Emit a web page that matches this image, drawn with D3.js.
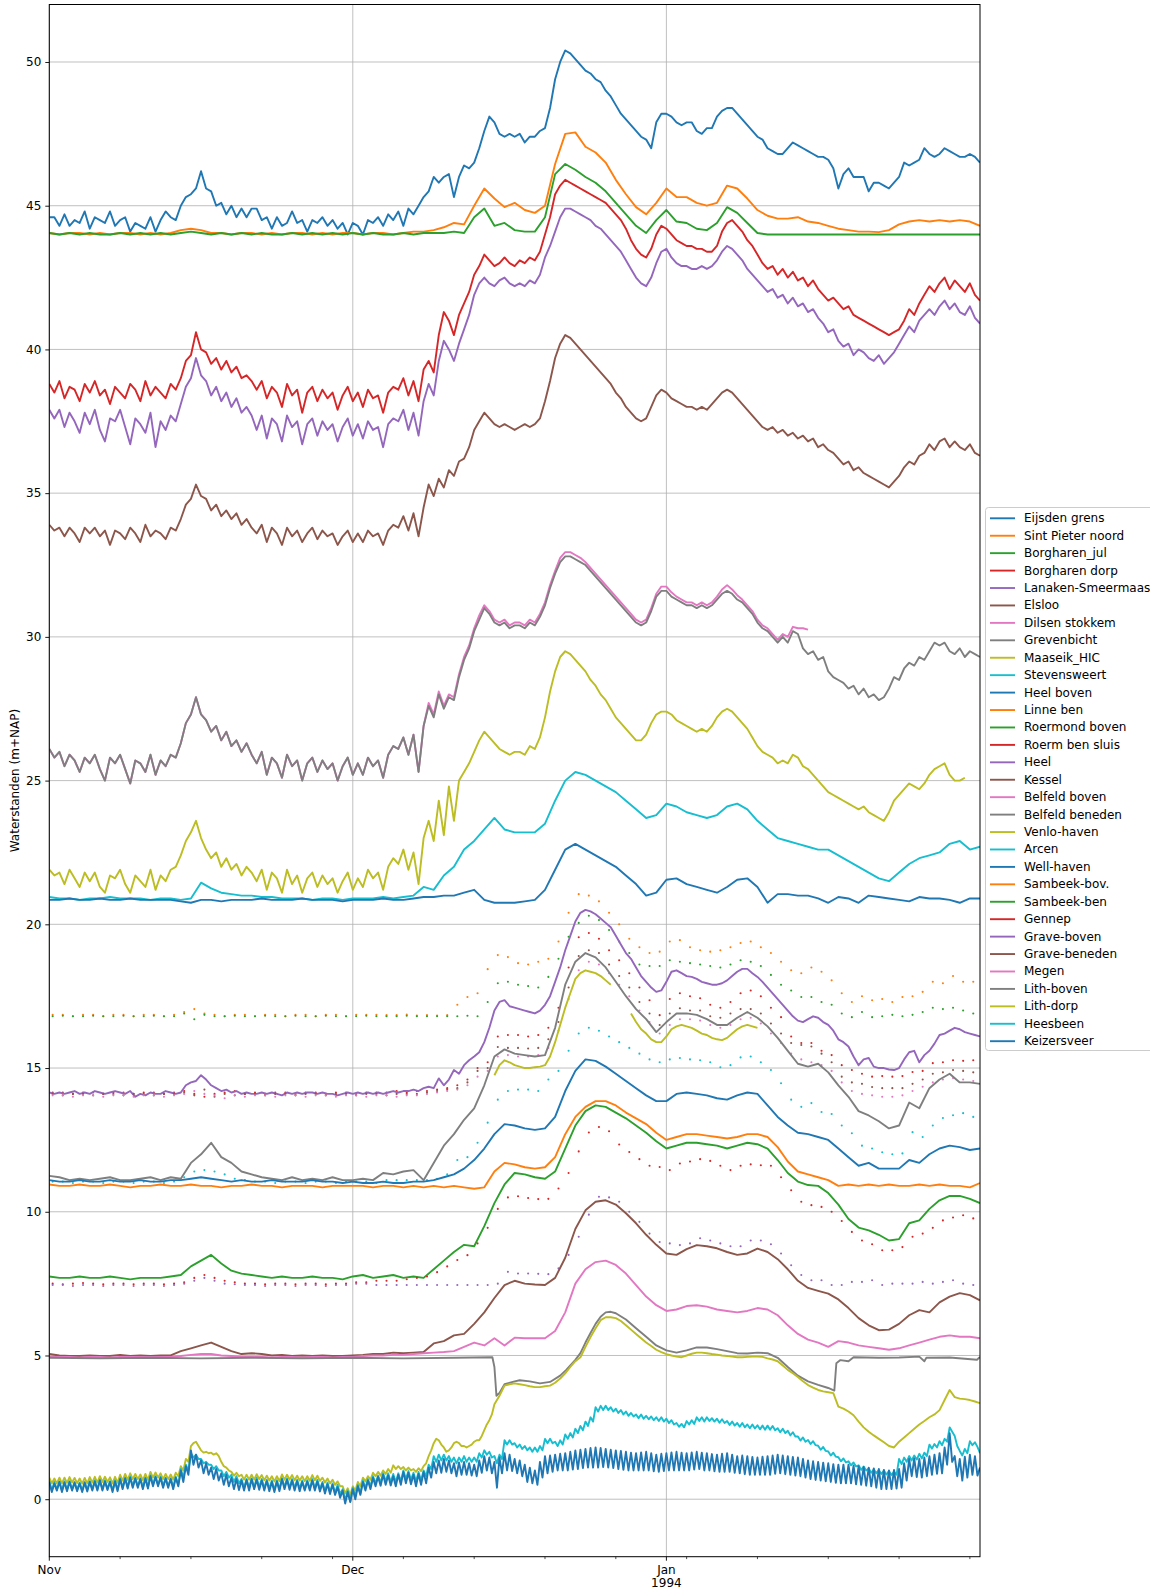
<!DOCTYPE html>
<html><head><meta charset="utf-8">
<script src="https://cdn.jsdelivr.net/npm/d3@7"></script>
<style>body{margin:0;background:#fff}svg{display:block;font-family:"DejaVu Sans",sans-serif}</style>
</head><body><svg id="chart" width="1150" height="1589"></svg>
<script>
// ---------------- DATA ----------------
const stationNames = ["Eijsden grens","Sint Pieter noord","Borgharen_jul","Borgharen dorp","Lanaken-Smeermaas","Elsloo","Dilsen stokkem","Grevenbicht","Maaseik_HIC","Stevensweert","Heel boven","Linne ben","Roermond boven","Roerm ben sluis","Heel","Kessel","Belfeld boven","Belfeld beneden","Venlo-haven","Arcen","Well-haven","Sambeek-bov.","Sambeek-ben","Gennep","Grave-boven","Grave-beneden","Megen","Lith-boven","Lith-dorp","Heesbeen","Keizersveer"];
const yTickValues = [0,5,10,15,20,25,30,35,40,45,50];
const monthTickDates = ["1993-11-01","1993-12-01","1994-01-01"];
const monthTickLabels = [["Nov"],["Dec"],["Jan","1994"]];
const tab10 = ["#1f77b4","#ff7f0e","#2ca02c","#d62728","#9467bd","#8c564b","#e377c2","#7f7f7f","#bcbd22","#17becf"];

// values every 12 h from 1 Nov 1993
const eijsdenGrens = [44.6,44.6,44.3,44.7,44.3,44.5,44.4,44.8,44.2,44.6,44.5,44.4,44.8,44.3,44.5,44.6,44.1,44.4,44.3,44.2,44.6,44.1,44.5,44.8,44.6,
44.5,45.0,45.3,45.4,45.6,46.2,45.6,45.5,45.0,45.1,44.7,45.0,44.6,44.9,44.6,44.9,44.9,44.5,44.6,44.2,44.6,44.3,44.4,44.8,44.4,44.5,44.1,44.5,44.4,44.6,44.3,44.5,44.2,44.4,44.0,44.4,44.3,44.0,44.5,44.4,44.6,44.3,44.7,44.5,44.8,
44.3,44.9,44.7,45.0,45.3,45.5,46.0,45.8,46.0,46.1,45.3,46.0,46.4,46.3,46.5,47.0,47.6,48.1,47.9,47.5,47.4,47.5,47.4,47.5,47.2,47.4,47.4,47.6,47.7,48.4,
49.4,50.0,50.4,50.3,50.1,49.9,49.7,49.6,49.4,49.3,49.0,48.8,48.5,48.2,48.0,47.8,47.6,47.4,47.3,47.0,47.9,48.2,48.2,48.1,47.9,47.8,47.9,47.9,47.6,47.5,
47.7,47.7,48.1,48.3,48.4,48.4,48.2,48.0,47.8,47.6,47.4,47.3,47.0,46.9,46.8,46.8,47.0,47.2,47.1,47.0,46.9,46.8,46.7,46.7,46.6,46.3,45.6,46.1,46.3,46.0,
46.0,46.0,45.5,45.8,45.8,45.7,45.6,45.8,46.0,46.5,46.4,46.5,46.6,47.0,46.8,46.7,46.8,47.0,46.9,46.8,46.7,46.7,46.8,46.7,46.5];
// daily
const sintPieterNoord = [44.05,44.0,44.05,44.05,44.0,44.05,44.0,44.05,44.05,44.0,44.05,44.0,44.05,44.15,44.2,44.15,44.05,44.05,44.0,44.05,44.05,44.0,44.05,44.0,44.05,44.05,44.0,44.05,44.0,44.05,44.05,44.0,44.05,44.05,44.0,44.05,44.1,44.1,44.15,44.25,44.4,44.35,45.0,45.6,45.25,44.95,45.1,44.85,44.75,45.0,46.45,47.5,47.55,47.05,46.85,46.5,45.9,45.4,44.95,44.7,45.1,45.6,45.3,45.3,45.1,45.0,45.1,45.7,45.6,45.25,44.85,44.65,44.55,44.55,44.6,44.45,44.4,44.3,44.2,44.15,44.1,44.1,44.08,44.15,44.35,44.45,44.5,44.45,44.5,44.45,44.5,44.45,44.3];
const borgharenJul = [44.05,44.0,44.05,44.0,44.05,44.0,44.0,44.05,44.0,44.05,44.0,44.05,44.0,44.05,44.1,44.05,44.0,44.05,44.0,44.05,44.0,44.05,44.0,44.0,44.05,44.0,44.05,44.0,44.05,44.0,44.05,44.0,44.05,44.0,44.0,44.05,44.0,44.05,44.05,44.05,44.1,44.05,44.6,44.9,44.3,44.4,44.15,44.1,44.1,44.6,46.1,46.45,46.25,46.0,45.8,45.5,45.1,44.7,44.3,44.05,44.5,44.85,44.45,44.4,44.2,44.15,44.4,44.95,44.75,44.4,44.05,44.0,44.0,44.0,44.0,44.0,44.0,44.0,44.0,44.0,44.0,44.0,44.0,44.0,44.0,44.0,44.0,44.0,44.0,44.0,44.0,44.0,44.0];
// every 12 h
const borgharenDorp = [38.8,38.5,38.9,38.3,38.7,38.6,38.2,38.8,38.5,38.9,38.4,38.6,38.1,38.7,38.5,38.3,38.8,38.6,38.2,38.9,38.4,38.7,38.5,38.3,38.8,
38.6,39.0,39.6,39.8,40.6,40.0,39.9,39.5,39.7,39.3,39.6,39.2,39.4,39.0,39.1,38.9,
38.6,38.9,38.3,38.7,38.5,38.0,38.8,38.4,38.6,37.8,38.5,38.7,38.2,38.6,38.3,38.5,37.9,38.4,38.7,38.2,38.5,38.0,38.6,38.3,38.4,37.8,38.5,38.7,38.6,39.0,38.4,38.9,38.2,39.3,
39.6,39.2,40.5,41.3,41.0,40.5,41.2,41.6,42.0,42.6,42.9,43.3,43.1,42.9,43.0,43.2,43.0,42.9,43.1,43.0,43.2,43.1,43.4,44.0,
44.6,45.4,45.7,45.9,45.8,45.7,45.6,45.5,45.4,45.3,45.2,45.1,44.9,44.7,44.5,44.2,43.8,43.5,43.3,43.2,43.5,44.0,
44.3,44.2,44.0,43.8,43.7,43.6,43.6,43.5,43.5,43.4,43.4,43.6,44.1,44.4,44.5,44.3,44.1,43.8,43.6,43.3,
43.0,42.8,42.9,42.6,42.8,42.5,42.7,42.4,42.5,42.2,42.4,42.1,41.9,41.7,41.8,41.6,41.4,41.5,41.2,41.1,41.0,40.9,40.8,40.7,40.6,40.5,40.6,40.7,41.0,41.4,41.2,41.6,41.9,42.2,42.0,42.3,42.5,42.1,42.4,42.2,42.0,42.3,41.9,41.7];
const lanakenSmeermaas = [37.9,37.6,37.9,37.3,37.8,37.5,37.1,37.8,37.4,37.9,37.2,36.8,37.6,37.5,37.9,37.3,36.7,37.6,37.4,37.1,37.8,36.6,37.5,37.2,37.7,
37.5,38.1,38.7,39.0,39.7,39.1,38.9,38.4,38.7,38.2,38.5,38.0,38.3,37.8,38.0,37.7,
37.2,37.7,36.9,37.6,37.4,36.8,37.7,37.3,37.5,36.7,37.4,37.6,37.0,37.5,37.2,37.4,36.8,37.3,37.6,37.0,37.4,36.9,37.5,37.2,37.3,36.6,37.4,37.6,37.5,37.9,37.2,37.8,37.0,38.2,
38.8,38.4,39.6,40.3,40.0,39.6,40.2,40.7,41.2,41.9,42.3,42.5,42.3,42.2,42.4,42.5,42.3,42.2,42.3,42.2,42.4,42.3,42.6,43.2,
43.6,44.1,44.6,44.9,44.9,44.8,44.7,44.6,44.5,44.3,44.2,44.0,43.8,43.6,43.4,43.1,42.8,42.5,42.3,42.2,42.5,43.0,
43.4,43.5,43.2,43.0,42.9,42.9,42.8,42.8,42.9,42.8,42.9,43.1,43.4,43.6,43.5,43.3,43.1,42.8,42.6,42.4,
42.2,42.0,42.1,41.8,41.9,41.6,41.8,41.5,41.6,41.3,41.4,41.1,40.9,40.6,40.7,40.3,40.1,40.2,39.8,40.0,39.9,39.7,39.6,39.8,39.5,39.7,39.9,40.2,40.5,40.8,40.6,41.0,41.2,41.4,41.2,41.5,41.7,41.4,41.6,41.3,41.2,41.5,41.1,40.9];
const elsloo = [33.9,33.7,33.8,33.5,33.8,33.6,33.3,33.8,33.6,33.8,33.5,33.7,33.2,33.7,33.6,33.4,33.8,33.6,33.3,33.9,33.5,33.7,33.6,33.4,33.8,
33.7,34.1,34.6,34.8,35.3,34.9,34.8,34.4,34.6,34.2,34.4,34.1,34.3,33.9,34.1,33.8,
33.6,33.9,33.3,33.8,33.6,33.2,33.8,33.5,33.7,33.3,33.6,33.8,33.4,33.7,33.5,33.6,33.2,33.5,33.7,33.3,33.6,33.3,33.7,33.5,33.6,33.2,33.7,33.9,33.8,34.2,33.7,34.3,33.5,34.5,
35.3,34.9,35.5,35.2,35.8,35.6,36.1,36.2,36.6,37.2,37.5,37.8,37.6,37.4,37.3,37.4,37.3,37.2,37.3,37.4,37.3,37.4,37.6,38.2,
38.9,39.7,40.2,40.5,40.4,40.2,40.0,39.8,39.6,39.4,39.2,39.0,38.8,38.5,38.3,38.0,37.8,37.6,37.5,37.6,38.0,38.4,
38.6,38.5,38.3,38.2,38.1,38.0,38.0,37.9,38.0,37.9,38.1,38.3,38.5,38.6,38.5,38.3,38.1,37.9,37.7,37.5,
37.3,37.2,37.3,37.1,37.2,37.0,37.1,36.9,37.0,36.8,36.9,36.6,36.7,36.5,36.4,36.2,36.0,36.1,35.8,35.9,35.7,35.6,35.5,35.4,35.3,35.2,35.4,35.6,35.9,36.1,36.0,36.3,36.4,36.7,36.5,36.8,36.9,36.6,36.8,36.6,36.5,36.7,36.4,36.3];
const dilsenStokkem = [26.1,25.8,26.0,25.5,25.9,25.7,25.3,25.8,25.6,25.9,25.4,25.0,25.8,25.6,25.9,25.4,24.9,25.7,25.6,25.3,25.9,25.2,25.7,25.5,25.9,
25.8,26.3,27.0,27.3,27.9,27.3,27.1,26.7,26.9,26.4,26.7,26.2,26.4,26.0,26.3,25.9,
25.6,26.0,25.2,25.8,25.6,25.1,25.9,25.5,25.7,25.0,25.6,25.8,25.3,25.7,25.4,25.6,25.0,25.5,25.8,25.2,25.6,25.2,25.8,25.5,25.7,25.1,25.9,26.2,26.1,26.5,25.9,26.6,25.3,26.9,
27.7,27.3,28.1,27.6,28.0,27.9,28.7,29.3,29.7,30.3,30.75,31.1,30.9,30.6,30.5,30.6,30.4,30.5,30.5,30.4,30.6,30.5,30.8,31.2,
31.8,32.3,32.75,32.95,32.95,32.85,32.75,32.6,32.4,32.2,32.0,31.8,31.6,31.4,31.2,31.0,30.8,30.6,30.5,30.6,31.0,31.5,
31.75,31.75,31.55,31.4,31.3,31.2,31.2,31.1,31.2,31.1,31.2,31.4,31.65,31.8,31.65,31.45,31.3,31.1,30.9,30.6,
30.4,30.3,30.1,29.9,30.1,30.0,30.35,30.3,30.3,30.25];
const grevenbicht = [26.1,25.8,26.0,25.5,25.9,25.7,25.3,25.8,25.6,25.9,25.4,25.0,25.8,25.6,25.9,25.4,24.9,25.7,25.6,25.3,25.9,25.2,25.7,25.5,25.9,
25.8,26.3,27.0,27.3,27.9,27.3,27.1,26.7,26.9,26.4,26.7,26.2,26.4,26.0,26.3,25.9,
25.6,26.0,25.2,25.8,25.6,25.1,25.9,25.5,25.7,25.0,25.6,25.8,25.3,25.7,25.4,25.6,25.0,25.5,25.8,25.2,25.6,25.2,25.8,25.5,25.7,25.1,25.9,26.2,26.1,26.5,25.9,26.6,25.3,26.9,
27.6,27.2,28.0,27.5,27.9,27.8,28.6,29.2,29.6,30.2,30.6,31.0,30.8,30.5,30.4,30.5,30.3,30.4,30.4,30.3,30.5,30.4,30.7,31.1,
31.7,32.2,32.6,32.8,32.8,32.7,32.6,32.5,32.3,32.1,31.9,31.7,31.5,31.3,31.1,30.9,30.7,30.5,30.4,30.5,30.9,31.4,
31.6,31.6,31.4,31.3,31.2,31.1,31.1,31.0,31.1,31.0,31.1,31.3,31.5,31.6,31.5,31.3,31.2,31.0,30.8,30.5,
30.3,30.2,30.0,29.8,30.0,29.8,30.2,30.1,29.6,29.4,29.5,29.2,29.3,28.8,28.6,28.5,28.4,28.2,28.3,28.0,28.2,27.9,28.0,27.8,27.9,28.2,28.6,28.5,28.9,29.1,29.0,29.3,29.2,29.5,29.8,29.7,29.8,29.5,29.4,29.6,29.3,29.5,29.4,29.3];
const maaseikHIC = [21.9,21.7,21.8,21.4,21.9,21.6,21.3,21.8,21.5,21.8,21.3,21.1,21.7,21.6,21.9,21.4,21.1,21.7,21.5,21.3,21.9,21.2,21.7,21.5,21.9,
22.0,22.4,22.9,23.2,23.6,23.0,22.6,22.3,22.5,22.0,22.3,21.9,22.1,21.7,22.0,21.8,
21.5,21.9,21.2,21.8,21.6,21.1,21.9,21.4,21.7,21.1,21.6,21.8,21.3,21.7,21.4,21.6,21.1,21.5,21.8,21.2,21.6,21.3,21.9,21.6,21.8,21.2,22.0,22.3,22.1,22.6,21.9,22.5,21.4,23.0,
23.6,22.9,24.3,23.1,24.8,23.6,25.0,25.3,25.6,26.0,26.4,26.7,26.5,26.3,26.1,26.0,25.9,26.0,26.0,25.9,26.2,26.1,26.5,27.2,
28.1,28.8,29.3,29.5,29.4,29.2,29.0,28.8,28.5,28.3,28.0,27.8,27.5,27.2,27.0,26.8,26.6,26.4,26.4,26.6,27.0,27.3,
27.4,27.4,27.3,27.1,27.0,26.9,26.8,26.7,26.8,26.7,26.9,27.2,27.4,27.5,27.4,27.2,27.0,26.8,26.5,26.2,
26.0,25.9,25.8,25.6,25.7,25.6,25.9,25.8,25.5,25.4,25.2,25.0,24.8,24.6,24.5,24.4,24.3,24.2,24.1,24.0,24.1,23.9,23.8,23.7,23.6,23.9,24.3,24.5,24.7,24.9,24.8,24.7,24.9,25.2,25.4,25.5,25.6,25.2,25.0,25.0,25.1];
// daily
const stevensweert = [20.95,20.9,20.9,20.85,20.9,20.9,20.95,20.9,20.9,20.9,20.85,20.9,20.9,20.85,20.9,21.45,21.25,21.1,21.05,21.0,21.0,20.95,20.95,20.9,20.9,20.9,20.85,20.9,20.9,20.85,20.9,20.9,20.9,20.95,20.9,20.95,21.0,21.3,21.2,21.7,22.0,22.6,22.9,23.3,23.7,23.3,23.2,23.2,23.2,23.5,24.3,25.0,25.3,25.2,25.0,24.8,24.6,24.3,24.0,23.7,23.8,24.2,24.1,23.9,23.8,23.7,23.8,24.1,24.2,24.0,23.6,23.3,23.0,22.9,22.8,22.7,22.6,22.6,22.4,22.2,22.0,21.8,21.6,21.5,21.8,22.1,22.3,22.4,22.5,22.8,22.9,22.6,22.7];
const heelBoven = [20.85,20.85,20.9,20.85,20.85,20.9,20.85,20.85,20.9,20.85,20.85,20.85,20.85,20.8,20.75,20.85,20.85,20.8,20.85,20.85,20.85,20.9,20.85,20.85,20.85,20.9,20.85,20.85,20.85,20.8,20.85,20.85,20.85,20.9,20.85,20.85,20.9,20.95,20.95,21.0,21.0,21.1,21.2,20.85,20.75,20.75,20.75,20.8,20.85,21.2,21.9,22.6,22.8,22.6,22.4,22.2,22.0,21.7,21.4,21.0,21.1,21.55,21.6,21.4,21.3,21.2,21.1,21.3,21.55,21.6,21.3,20.75,21.05,21.05,21.0,21.0,20.9,20.75,20.95,20.9,20.75,21.0,20.95,20.9,20.85,20.8,20.95,20.9,20.9,20.85,20.75,20.9,20.9];
// daily readings (08:00), drawn as points
const linneBen = [16.85,16.85,16.8,16.85,16.85,16.8,16.85,16.85,16.8,16.85,16.85,16.8,16.85,16.95,17.05,16.9,16.85,16.8,16.85,16.85,16.8,16.85,16.85,16.8,16.85,16.85,16.8,16.85,16.85,16.8,16.85,16.85,16.85,16.84,16.84,16.86,16.83,16.84,16.83,16.84,17.2,17.47,17.6,18.44,18.93,18.86,18.65,18.6,18.7,18.8,19.4,20.4,21.05,21.0,20.8,20.4,20.0,19.5,19.2,19.0,19.05,19.4,19.45,19.2,19.1,19.05,19.1,19.2,19.35,19.4,19.2,19.0,18.7,18.4,18.3,18.5,18.35,18.05,17.6,17.3,17.5,17.36,17.4,17.3,17.47,17.5,17.65,18.0,17.95,18.2,18.0,18.0];
const roermondBoven = [16.8,16.82,16.8,16.8,16.82,16.8,16.8,16.82,16.8,16.8,16.82,16.8,16.8,16.9,16.7,16.85,16.8,16.8,16.82,16.8,16.8,16.82,16.8,16.8,16.82,16.8,16.8,16.82,16.8,16.8,16.8,16.82,16.8,16.8,16.8,16.82,16.8,16.8,16.8,16.8,16.8,16.82,16.8,17.3,17.95,18.0,17.9,17.85,17.8,18.17,18.8,19.57,20.05,20.3,20.15,19.8,19.4,19.0,18.6,18.55,18.55,18.75,18.7,18.65,18.6,18.55,18.5,18.6,18.75,18.7,18.55,18.24,17.9,17.7,17.47,17.47,17.3,17.2,16.9,16.77,16.95,16.77,16.8,16.85,16.8,16.85,16.95,17.1,17.05,17.1,17.0,16.9];
const roermBenSluis = [14.15,14.15,14.1,14.15,14.15,14.1,14.15,14.15,14.1,14.15,14.15,14.1,14.15,14.2,14.1,14.0,14.1,14.15,14.2,14.1,14.15,14.1,14.15,14.15,14.1,14.15,14.15,14.1,14.15,14.15,14.1,14.15,14.15,14.15,14.2,14.15,14.2,14.2,14.25,14.3,14.4,14.6,15.0,15.2,16.1,16.15,16.15,16.1,16.15,16.4,17.1,18.5,19.55,19.7,19.5,19.1,18.75,18.3,17.8,17.36,16.84,17.4,17.6,17.5,17.43,17.2,17.1,17.3,17.6,17.7,17.5,17.1,16.77,16.1,15.87,15.87,15.6,15.45,15.1,14.93,14.8,14.7,14.72,14.7,14.72,14.86,14.9,15.17,15.2,15.27,15.25,15.27];
// every 12 h
const heel = [14.15,14.1,14.15,14.1,14.15,14.2,14.1,14.15,14.1,14.2,14.15,14.1,14.15,14.2,14.15,14.1,14.2,14.0,14.1,14.05,14.15,14.1,14.1,14.2,14.15,
14.1,14.15,14.4,14.5,14.55,14.75,14.6,14.4,14.3,14.2,14.25,14.15,14.2,14.1,14.15,14.1,
14.1,14.15,14.1,14.15,14.1,14.05,14.15,14.1,14.15,14.1,14.15,14.15,14.1,14.15,14.1,14.1,14.05,14.1,14.15,14.1,14.15,14.1,14.15,14.1,14.15,14.1,14.15,14.2,14.15,14.2,14.2,14.25,14.2,14.3,
14.35,14.3,14.64,14.4,14.6,14.93,14.8,15.1,15.27,15.4,15.55,15.9,16.4,17.0,17.3,17.36,17.15,17.1,17.05,17.0,16.95,16.9,17.0,17.2,
17.5,18.0,18.5,19.1,19.6,20.1,20.4,20.5,20.45,20.35,20.2,20.05,19.9,19.6,19.3,19.0,18.8,18.5,18.2,18.0,17.8,17.65,
17.7,18.0,18.35,18.4,18.3,18.2,18.17,18.1,18.0,17.95,17.9,17.9,17.95,18.05,18.2,18.35,18.45,18.45,18.3,18.17,
18.0,17.8,17.6,17.4,17.2,17.0,16.8,16.65,16.6,16.7,16.8,16.75,16.6,16.5,16.3,16.0,15.9,15.75,15.4,15.1,15.3,15.35,15.05,15.0,15.0,14.95,14.93,15.0,15.3,15.55,15.6,15.2,15.45,15.6,15.85,16.15,16.2,16.3,16.4,16.35,16.25,16.2,16.15,16.1];
const kessel = [14.1,14.05,14.1,14.1,14.05,14.1,14.1,14.05,14.1,14.1,14.05,14.1,14.1,14.15,14.05,14.25,14.0,14.1,14.05,14.1,14.1,14.05,14.1,14.1,14.05,14.1,14.1,14.05,14.1,14.1,14.05,14.1,14.1,14.05,14.1,14.1,14.1,14.15,14.2,14.25,14.3,14.5,14.9,15.0,15.73,15.7,15.7,15.68,15.7,16.0,16.6,17.8,18.9,19.1,19.0,18.6,18.2,17.8,17.3,16.9,16.5,16.9,17.08,17.0,17.0,16.8,16.75,16.9,17.05,17.05,16.9,16.55,16.2,15.87,15.8,15.75,15.5,15.2,14.7,14.5,14.45,14.34,14.3,14.3,14.3,14.45,14.6,14.8,14.85,14.93,14.9,14.85];
const belfeldBoven = [14.05,14.05,14.0,14.05,14.05,14.0,14.05,14.05,14.0,14.05,14.05,14.0,14.05,14.1,14.2,14.1,14.05,13.95,14.05,14.0,14.05,14.05,14.0,14.05,14.05,14.0,14.05,14.05,14.0,14.05,14.05,14.0,14.05,14.05,14.0,14.05,14.05,14.1,14.15,14.2,14.25,14.4,14.7,14.9,15.4,15.45,15.4,15.4,15.45,15.7,16.3,17.4,18.4,18.7,18.6,18.3,17.9,17.5,17.0,16.6,16.2,16.5,16.7,16.7,16.65,16.5,16.4,16.5,16.7,16.75,16.55,16.2,15.87,15.5,15.3,15.2,15.1,14.9,14.5,14.2,14.1,14.05,14.0,14.0,14.05,14.2,14.35,14.5,14.6,14.65,14.6,14.55];
// daily
const belfeldBeneden = [11.25,11.2,11.1,11.15,11.1,11.15,11.2,11.1,11.1,11.15,11.2,11.1,11.2,11.15,11.7,12.0,12.4,11.9,11.7,11.4,11.3,11.2,11.15,11.1,11.2,11.1,11.15,11.1,11.2,11.1,11.1,11.15,11.1,11.35,11.3,11.4,11.45,11.1,11.7,12.3,12.7,13.2,13.6,14.4,15.4,15.65,15.5,15.45,15.4,15.45,16.4,17.9,18.7,19.0,18.85,18.5,18.0,17.5,17.05,16.7,16.25,16.6,16.9,16.9,16.85,16.7,16.5,16.5,16.75,16.95,16.75,16.45,16.05,15.6,15.15,15.05,15.15,14.85,14.4,14.0,13.5,13.35,13.15,12.9,13.0,13.8,13.6,14.3,14.6,14.8,14.5,14.5,14.45];
// every 12 h from 14 Dec (null = no data)
const venloHaven = [14.75,15.1,15.27,15.2,15.1,15.05,15.0,15.0,15.03,15.05,15.1,15.4,15.9,16.5,17.1,17.6,18.1,18.3,18.4,18.35,18.3,18.2,18.05,17.9,null,null,null,16.9,16.6,16.35,16.2,16.0,15.9,15.9,16.1,16.35,16.45,16.5,16.45,16.4,16.3,16.2,16.15,16.05,16.0,15.97,16.05,16.2,16.35,16.45,16.5,16.45,16.4];
const arcen = [11.05,11.05,11.0,11.05,11.05,11.0,11.05,11.05,11.0,11.05,11.05,11.0,11.05,11.2,11.4,11.45,11.4,11.3,11.15,11.1,11.05,11.05,11.0,11.05,11.05,11.0,11.05,11.05,11.0,11.05,11.05,11.05,11.0,11.1,11.1,11.1,11.1,11.1,11.15,11.3,11.8,11.9,12.4,13.1,13.9,14.2,14.25,14.25,14.2,14.6,14.9,15.6,16.2,16.4,16.3,16.1,15.9,15.7,15.5,15.3,15.2,15.3,15.35,15.3,15.27,15.2,15.03,15.1,15.37,15.4,15.2,14.93,14.47,13.9,13.65,13.78,13.47,13.4,13.0,12.73,12.3,12.2,12.07,12.0,12.03,12.77,12.6,13.0,13.26,13.36,13.43,13.3];
const wellHaven = [11.1,11.05,11.05,11.1,11.05,11.05,11.1,11.05,11.05,11.1,11.05,11.05,11.1,11.1,11.15,11.2,11.15,11.1,11.05,11.1,11.05,11.05,11.1,11.05,11.05,11.05,11.1,11.05,11.05,11.0,11.05,11.0,11.0,11.05,11.0,11.0,11.05,11.05,11.1,11.2,11.3,11.5,11.8,12.2,12.7,13.05,13.0,12.9,12.85,12.9,13.3,14.2,14.9,15.3,15.25,15.05,14.8,14.55,14.3,14.05,13.85,13.85,14.1,14.15,14.1,14.05,13.95,13.9,14.05,14.15,14.1,13.7,13.3,13.0,12.75,12.7,12.6,12.5,12.2,11.9,11.6,11.7,11.5,11.5,11.5,11.8,11.7,12.0,12.2,12.3,12.25,12.15,12.2];
const sambeekBov = [10.95,10.9,10.9,10.95,10.9,10.9,10.95,10.9,10.85,10.9,10.9,10.95,10.9,10.9,10.95,10.9,10.9,10.85,10.9,10.9,10.95,10.9,10.9,10.85,10.9,10.9,10.9,10.85,10.9,10.9,10.9,10.9,10.85,10.9,10.9,10.85,10.9,10.85,10.9,10.85,10.9,10.85,10.8,10.85,11.4,11.7,11.65,11.55,11.5,11.55,11.9,12.7,13.3,13.65,13.85,13.85,13.7,13.45,13.25,13.05,12.75,12.5,12.6,12.7,12.7,12.65,12.6,12.55,12.6,12.7,12.7,12.6,12.25,11.75,11.4,11.3,11.2,11.1,10.9,10.95,10.9,10.95,10.9,10.95,10.9,10.9,10.95,10.9,10.95,10.9,10.9,10.85,11.0];
const sambeekBen = [7.75,7.7,7.7,7.75,7.7,7.7,7.75,7.7,7.65,7.7,7.7,7.7,7.75,7.8,8.1,8.3,8.5,8.2,7.95,7.85,7.8,7.75,7.7,7.75,7.7,7.7,7.75,7.7,7.7,7.65,7.75,7.8,7.7,7.75,7.8,7.7,7.75,7.7,8.0,8.3,8.6,8.85,8.8,9.5,10.3,10.95,11.35,11.3,11.2,11.15,11.4,12.2,13.0,13.5,13.7,13.65,13.45,13.25,13.0,12.75,12.45,12.2,12.3,12.4,12.4,12.35,12.3,12.2,12.3,12.4,12.35,12.2,11.8,11.35,11.05,10.93,10.9,10.65,10.25,9.75,9.45,9.35,9.2,9.0,9.05,9.6,9.7,10.1,10.4,10.55,10.55,10.45,10.3];
// daily readings (08:00), drawn as points
const gennep = [7.5,7.48,7.5,7.52,7.5,7.48,7.5,7.5,7.48,7.5,7.5,7.48,7.5,7.55,7.7,7.8,7.7,7.6,7.55,7.5,7.5,7.48,7.5,7.5,7.48,7.5,7.5,7.48,7.5,7.5,7.55,7.55,7.6,7.6,7.6,7.65,7.7,7.75,7.9,8.1,8.32,8.49,8.9,9.44,10.1,10.5,10.54,10.48,10.44,10.45,10.81,11.35,12.1,12.76,12.95,12.8,12.34,12.08,11.83,11.6,11.56,11.45,11.68,11.75,11.83,11.77,11.6,11.45,11.6,11.65,11.62,11.6,11.2,10.75,10.35,10.23,10.17,10.0,9.68,9.3,9.0,8.87,8.66,8.66,8.77,9.13,9.24,9.44,9.7,9.8,9.88,9.77];
const graveBoven = [7.45,7.45,7.42,7.45,7.45,7.42,7.45,7.45,7.42,7.45,7.45,7.42,7.45,7.5,7.6,7.7,7.6,7.5,7.48,7.45,7.45,7.42,7.45,7.45,7.42,7.45,7.45,7.42,7.45,7.45,7.5,7.5,7.45,7.45,7.45,7.45,7.45,7.45,7.45,7.45,7.45,7.45,7.45,7.45,7.5,7.91,7.85,7.85,7.84,7.83,8.03,8.5,9.13,9.9,10.52,10.5,10.35,10.0,9.65,9.24,8.95,8.9,8.84,8.9,9.08,9.0,8.9,8.8,8.8,9.0,9.0,8.87,8.55,8.14,7.8,7.62,7.62,7.45,7.45,7.56,7.56,7.62,7.45,7.5,7.5,7.5,7.56,7.5,7.56,7.62,7.5,7.45];
// daily
const graveBeneden = [5.05,5.0,4.98,4.98,5.0,4.98,4.98,5.02,4.98,5.0,4.98,5.0,5.0,5.15,5.25,5.35,5.45,5.3,5.15,5.05,5.08,5.05,5.0,5.02,4.98,5.0,4.98,5.0,4.98,4.98,5.0,5.02,5.05,5.05,5.1,5.08,5.1,5.12,5.42,5.5,5.7,5.75,6.1,6.5,7.0,7.45,7.6,7.5,7.47,7.45,7.7,8.4,9.4,10.05,10.35,10.4,10.25,9.95,9.6,9.2,8.85,8.55,8.5,8.7,8.84,8.8,8.73,8.6,8.5,8.55,8.72,8.6,8.35,8.0,7.6,7.35,7.25,7.15,6.95,6.65,6.3,6.05,5.88,5.9,6.1,6.4,6.58,6.5,6.85,7.05,7.17,7.1,6.92];
const megen = [4.95,4.95,4.95,4.93,4.95,4.95,4.93,4.95,4.95,4.95,4.95,4.95,4.95,4.98,5.02,5.05,5.05,5.0,4.98,4.95,4.95,4.95,4.93,4.95,4.95,4.93,4.95,4.95,4.93,4.95,4.95,4.98,5.0,5.0,5.02,5.02,5.05,5.08,5.1,5.12,5.15,5.3,5.45,5.35,5.6,5.35,5.62,5.6,5.6,5.6,5.85,6.5,7.5,8.0,8.25,8.3,8.15,7.85,7.45,7.05,6.75,6.55,6.6,6.72,6.75,6.7,6.6,6.55,6.5,6.55,6.65,6.6,6.4,6.05,5.75,5.55,5.45,5.3,5.5,5.45,5.35,5.3,5.25,5.2,5.25,5.35,5.45,5.55,5.65,5.7,5.65,5.65,5.6];
// [day after 1 Nov, level]
const lithBoven = [[0,4.92],[5,4.9],[10,4.92],[15,4.9],[20,4.92],[25,4.9],[30,4.92],[35,4.9],[40,4.92],[43.8,4.94],[44.0,4.6],[44.2,3.6],[44.5,3.7],[45,4.0],[46,4.1],[46.5,4.14],[47.5,4.1],[48.5,4.03],[49.5,4.08],[50.5,4.3],[51.1,4.5],[52,4.85],[52.5,5.08],[53,5.45],[53.5,5.78],[54,6.1],[54.5,6.35],[55,6.5],[55.5,6.52],[56,6.47],[57,6.25],[58,5.95],[59,5.65],[60,5.35],[61,5.18],[62,5.1],[63,5.18],[64,5.28],[65,5.28],[66,5.22],[67,5.15],[68,5.08],[69,5.07],[70,5.1],[71,5.08],[72,4.92],[73,4.6],[74,4.3],[75,4.1],[76,3.98],[77,3.87],[77.6,3.78],[77.8,4.73],[78.2,4.84],[79,4.8],[79.5,4.94],[82,4.92],[84,4.93],[86,4.96],[86.5,4.8],[86.7,4.92],[89,4.93],[91.7,4.85],[92,4.95]];
// every 6 h, 1 Nov - 12 Dec
const lithDorpTide = [.75,.55,.72,.55, .75,.55,.75,.57, .77,.58,.74,.56, .72,.54,.74,.55, .77,.58,.78,.58, .8,.6,.78,.6, .76,.55,.78,.57, .85,.65,.88,.67, .9,.7,.88,.7, .86,.66,.88,.67,
.95,.75,.93,.75, .9,.7,.88,.7, .86,.68,.92,.8, 1.15,1.0,1.4,1.3, 1.85,1.95,2.0,1.85, 1.7,1.62,1.65,1.6, 1.62,1.55,1.6,1.5, 1.3,1.15,1.1,1.0, .95,.82,.92,.8, .85,.68,.85,.68,
.85,.68,.87,.7, .84,.66,.82,.65, .8,.62,.8,.63, .86,.68,.85,.68, .84,.66,.82,.65, .8,.63,.8,.64, .84,.66,.82,.64, .75,.58,.72,.55, .68,.5,.62,.45, .45,.2,.38,.15,
.45,.3,.6,.45, .75,.62,.8,.68, .92,.8,.95,.82, 1.0,.88,1.05,.92, 1.18,1.05,1.15,1.05, 1.12,1.0,1.1,1.0, 1.05,.95,1.08,.98, 1.15,1.25,1.5,1.7, 1.95,2.1,2.05,1.9, 1.8,1.65,1.7,1.8,
1.95,2.0,1.95,1.85, 1.85,1.8,1.85,1.9, 2.0,2.05,2.05,2.2, 2.4,2.6,2.75,2.95, 3.3];
// every 12 h, from 15 Dec 12:00
const lithDorpFlood = [3.6,3.95,4.0,4.03,4.0,3.97,3.93,3.9,3.9,3.93, 3.95,4.05,4.2,4.38,4.6,4.8,4.94,5.3,5.64,5.95, 6.23,6.33,6.33,6.3,6.2,6.05,5.9,5.75,5.6,5.45, 5.33,5.2,5.12,5.05,5.0,4.96,4.94,5.0,5.06,5.1, 5.1,5.08,5.05,5.03,5.0,4.98,4.96,4.94,4.94,4.95, 4.96,4.96,4.95,4.9,4.86,4.8,4.65,4.5,4.38,4.25, 4.1,3.97,3.88,3.8,3.75,3.72,3.69,3.22,3.15,3.05, 2.92,2.7,2.5,2.35,2.22,2.1,1.98,1.85,1.8,2.0, 2.15,2.3,2.45,2.6,2.72,2.85,2.95,3.1,3.45,3.8, 3.55,3.5,3.48,3.45,3.4,3.34];
// every 6 h
const heesbeen = [.62,.3,.6,.33, .62,.3,.62,.33, .63,.35,.6,.33, .58,.3,.6,.32, .63,.35,.65,.35, .68,.35,.65,.36, .63,.3,.65,.33, .73,.4,.75,.42, .78,.45,.75,.45, .73,.4,.75,.42,
.83,.5,.8,.5, .78,.45,.75,.45, .73,.42,.78,.5, 1.05,.75,1.2,1.0, 1.6,1.45,1.55,1.4, 1.4,1.25,1.3,1.2, 1.2,1.05,1.15,1.0, 1.0,.8,.95,.75, .85,.6,.8,.55, .7,.4,.7,.4,
.72,.4,.75,.42, .7,.38,.68,.36, .65,.32,.66,.35, .73,.42,.72,.4, .7,.38,.68,.36, .65,.35,.66,.36, .7,.38,.68,.35, .6,.28,.58,.25, .55,.22,.5,.18, .35,-.05,.3,-.08,
.4,.1,.5,.2, .65,.4,.7,.45, .8,.55,.82,.58, .9,.62,.9,.6, .88,.6,.9,.62, 1.0,.7,.98,.68, .92,.62,.95,.65, 1.0,.8,1.2,1.05, 1.5,1.3,1.55,1.35, 1.55,1.35,1.5,1.3,
1.45,1.25,1.45,1.3, 1.5,1.3,1.45,1.3, 1.45,1.3,1.6,1.45, 1.7,1.55,1.65,1.45, 1.5,1.25,1.55,1.4, 2.05,1.9,2.05,1.9, 1.95,1.8,1.9,1.75, 1.85,1.7,1.8,1.65, 1.8,1.65,1.85,1.7, 2.1,1.95,2.1,1.95,
2.0,1.85,2.05,1.9, 2.25,2.1,2.3,2.15, 2.45,2.3,2.55,2.4, 2.7,2.55,2.85,2.7, 3.2,3.05,3.25,3.1, 3.25,3.1,3.2,3.05, 3.15,3.0,3.1,2.95, 3.05,2.9,3.0,2.88, 2.95,2.82,2.95,2.8, 2.9,2.78,2.88,2.75,
2.85,2.72,2.85,2.7, 2.8,2.65,2.75,2.6, 2.65,2.52,2.62,2.5, 2.72,2.6,2.75,2.62, 2.85,2.72,2.85,2.7, 2.85,2.72,2.82,2.7, 2.8,2.66,2.78,2.65, 2.72,2.58,2.7,2.56, 2.65,2.52,2.65,2.5, 2.6,2.47,2.6,2.46,
2.57,2.43,2.56,2.42, 2.56,2.42,2.55,2.4, 2.47,2.33,2.45,2.3, 2.38,2.22,2.33,2.18, 2.18,2.04,2.15,2.0, 2.06,1.92,2.02,1.88, 1.86,1.72,1.82,1.68, 1.66,1.52,1.62,1.48, 1.46,1.32,1.42,1.28, 1.32,1.18,1.28,1.14,
1.18,1.02,1.14,1.0, 1.07,.92,1.04,.9, 1.02,.88,1.0,.86, .98,.84,.96,.85, 1.4,1.22,1.45,1.3, 1.5,1.35,1.52,1.38, 1.58,1.42,1.62,1.5, 1.9,1.76,1.92,1.8, 2.02,1.88,2.1,2.0, 2.5,2.35,2.2,1.85,
1.68,1.52,1.75,1.6, 2.02,1.88,1.98,1.82, 1.6];
const keizersveer = [.6,.25,.55,.3, .6,.25,.58,.28, .6,.3,.57,.28, .55,.25,.57,.27, .6,.3,.62,.3, .65,.3,.62,.32, .6,.25,.62,.28, .7,.35,.72,.37, .75,.4,.72,.4, .7,.35,.72,.37,
.8,.45,.77,.45, .75,.4,.72,.4, .7,.35,.75,.45, 1.0,.6,1.15,.85, 1.7,1.2,1.55,1.1, 1.35,.9,1.25,.85, 1.1,.7,1.05,.65, .9,.5,.85,.45, .75,.35,.7,.32, .65,.3,.67,.3,
.7,.35,.68,.33, .65,.3,.63,.28, .6,.25,.62,.28, .7,.35,.68,.33, .65,.3,.63,.28, .6,.3,.62,.3, .65,.3,.62,.27, .55,.2,.52,.18, .5,.15,.42,.05, .3,-.15,.25,-.1,
.35,0,.45,.15, .6,.3,.65,.35, .75,.45,.78,.47, .85,.5,.83,.48, .8,.45,.85,.5, .95,.55,.92,.52, .85,.45,.88,.5, .95,.55,1.1,.75, 1.3,.9,1.35,.92, 1.4,.95,1.35,.9,
1.25,.8,1.28,.85, 1.3,.85,1.25,.82, 1.2,.8,1.35,.92, 1.5,1.0,1.45,.9, 1.3,.4,1.45,.9, 1.6,1.0,1.55,.98, 1.4,.9,1.35,.8, 1.2,.6,1.1,.55, 1.0,.5,1.3,.75, 1.5,.9,1.52,.95,
1.55,1.0,1.58,1.0, 1.6,1.0,1.65,1.03, 1.7,1.05,1.72,1.08, 1.75,1.1,1.78,1.1, 1.8,1.1,1.78,1.12, 1.75,1.1,1.72,1.08, 1.7,1.05,1.68,1.02, 1.65,1.0,1.62,1.0, 1.6,1.0,1.63,1.0, 1.65,1.0,1.6,.97,
1.55,.95,1.58,.98, 1.6,1.0,1.63,1.0, 1.65,1.0,1.62,1.0, 1.6,1.0,1.63,1.03, 1.65,1.05,1.62,1.0, 1.6,1.0,1.57,.97, 1.55,.95,1.58,.95, 1.6,.95,1.55,.92, 1.5,.9,1.52,.87, 1.5,.85,1.47,.85,
1.45,.85,1.48,.85, 1.5,.85,1.52,.88, 1.55,.9,1.52,.87, 1.5,.85,1.47,.82, 1.45,.8,1.4,.75, 1.35,.7,1.32,.67, 1.3,.65,1.27,.62, 1.25,.6,1.22,.57, 1.2,.55,1.2,.55, 1.2,.55,1.17,.52,
1.15,.5,1.12,.47, 1.1,.45,1.07,.4, 1.05,.35,1.02,.35, 1.0,.35,1.02,.37, 1.05,.4,1.25,.65, 1.4,.8,1.42,.77, 1.4,.75,1.45,.8, 1.5,.85,1.55,.88, 1.6,.9,1.8,1.2, 2.3,1.3,1.5,.8,
1.4,.65,1.48,.75, 1.55,.85,1.5,.82, 1.1];

// ---------------- CHART ----------------
const DAY = 864e5;
const t0 = Date.UTC(1993, 10, 1);
const plot = {left: 49.3, right: 980, top: 4.5, bottom: 1556.7};
const x = d3.scaleUtc().domain([new Date(t0), new Date(Date.UTC(1994, 1, 1))]).range([plot.left, plot.right]);
const y = d3.scaleLinear().domain([-2, 52]).range([plot.bottom, plot.top]);
const toDate = d => new Date(t0 + d * DAY);

function regular(values, start, step) {
  return values.map((v, i) => ({day: start + i * step, v}));
}
const pts = [
  regular(eijsdenGrens, 0, 0.5), regular(sintPieterNoord, 0, 1), regular(borgharenJul, 0, 1),
  regular(borgharenDorp, 0, 0.5), regular(lanakenSmeermaas, 0, 0.5), regular(elsloo, 0, 0.5),
  regular(dilsenStokkem, 0, 0.5), regular(grevenbicht, 0, 0.5), regular(maaseikHIC, 0, 0.5),
  regular(stevensweert, 0, 1), regular(heelBoven, 0, 1), regular(linneBen, 1/3, 1),
  regular(roermondBoven, 1/3, 1), regular(roermBenSluis, 1/3, 1), regular(heel, 0, 0.5),
  regular(kessel, 1/3, 1), regular(belfeldBoven, 1/3, 1), regular(belfeldBeneden, 0, 1),
  regular(venloHaven, 44, 0.5), regular(arcen, 1/3, 1), regular(wellHaven, 0, 1),
  regular(sambeekBov, 0, 1), regular(sambeekBen, 0, 1), regular(gennep, 1/3, 1),
  regular(graveBoven, 1/3, 1), regular(graveBeneden, 0, 1), regular(megen, 0, 1),
  lithBoven.map(p => ({day: p[0], v: p[1]})),
  regular(lithDorpTide, 0, 0.25).concat(regular(lithDorpFlood, 44.5, 0.5)),
  regular(heesbeen, 0, 0.25), regular(keizersveer, 0, 0.25)
];
const pointSeries = new Set([11, 12, 13, 15, 16, 19, 23, 24]);
const table = stationNames.map((name, i) => ({name, color: tab10[i % 10], points: pts[i], dots: pointSeries.has(i)}));

const svg = d3.select("#chart");
svg.append("rect").attr("width", 1150).attr("height", 1589).attr("fill", "#fff");
svg.append("defs").append("clipPath").attr("id", "clip").append("rect")
  .attr("x", plot.left).attr("y", plot.top)
  .attr("width", plot.right - plot.left).attr("height", plot.bottom - plot.top);

// grid
const grid = svg.append("g").attr("stroke", "#b0b0b0").attr("stroke-width", 0.8);
grid.selectAll("line.h").data(yTickValues).join("line")
  .attr("x1", plot.left).attr("x2", plot.right)
  .attr("y1", d => y(d)).attr("y2", d => y(d));
const monthDates = monthTickDates.map(s => new Date(s + "T00:00:00Z"));
grid.selectAll("line.v").data(monthDates).join("line")
  .attr("x1", d => x(d)).attr("x2", d => x(d))
  .attr("y1", plot.top).attr("y2", plot.bottom);

// series
const gSeries = svg.append("g").attr("clip-path", "url(#clip)");
const line = d3.line().defined(p => p.v != null).x(p => x(toDate(p.day))).y(p => y(p.v));
table.forEach(s => {
  if (s.dots) {
    gSeries.append("g").attr("fill", s.color).selectAll("circle").data(s.points).join("circle")
      .attr("cx", p => x(toDate(p.day))).attr("cy", p => y(p.v)).attr("r", 1.05);
  } else {
    gSeries.append("path").datum(s.points).attr("d", line)
      .attr("fill", "none").attr("stroke", s.color).attr("stroke-width", 1.9)
      .attr("stroke-linejoin", "round");
  }
});

// axes
const yAxis = d3.axisLeft(y).tickValues(yTickValues).tickSize(4).tickPadding(4).tickFormat(d3.format("d"));
const gy = svg.append("g").attr("transform", `translate(${plot.left},0)`).call(yAxis);
gy.select(".domain").remove();
gy.selectAll("text").attr("font-size", 12).attr("fill", "#000").attr("font-family", "DejaVu Sans");
gy.selectAll("line").attr("stroke", "#000").attr("stroke-width", 0.9);

const gx = svg.append("g").attr("transform", `translate(0,${plot.bottom})`);
const minor = d3.utcMonday.range(toDate(0.5), toDate(92)).filter(d => d.getUTCDate() !== 1);
gx.selectAll("line.minor").data(minor).join("line")
  .attr("x1", d => x(d)).attr("x2", d => x(d)).attr("y1", 0).attr("y2", 2.4)
  .attr("stroke", "#000").attr("stroke-width", 0.7);
gx.selectAll("line.major").data(monthDates).join("line")
  .attr("x1", d => x(d)).attr("x2", d => x(d)).attr("y1", 0).attr("y2", 4)
  .attr("stroke", "#000").attr("stroke-width", 0.9);
const xl = gx.selectAll("text.m").data(monthDates).join("text")
  .attr("x", d => x(d)).attr("y", 17.8).attr("text-anchor", "middle")
  .attr("font-size", 12).attr("fill", "#000");
xl.each(function(d, i) {
  const t = d3.select(this);
  monthTickLabels[i].forEach((s, k) => {
    t.append("tspan").attr("x", x(d)).attr("dy", k === 0 ? 0 : 12.8).text(s);
  });
});

// frame
svg.append("rect").attr("x", plot.left).attr("y", plot.top)
  .attr("width", plot.right - plot.left).attr("height", plot.bottom - plot.top)
  .attr("fill", "none").attr("stroke", "#000").attr("stroke-width", 1);

// y label
svg.append("text").attr("transform", `translate(15,${(plot.top + plot.bottom) / 2}) rotate(-90)`)
  .attr("text-anchor", "middle").attr("dominant-baseline", "middle")
  .attr("font-size", 12).attr("fill", "#000").text("Waterstanden (m+NAP)");

// legend
const lg = svg.append("g");
lg.append("rect").attr("x", 985.5).attr("y", 507.5).attr("width", 200).attr("height", 543)
  .attr("rx", 3).attr("fill", "#fff").attr("stroke", "#cccccc").attr("stroke-width", 1);
const ent = lg.selectAll("g.e").data(table).join("g")
  .attr("transform", (d, i) => `translate(0,${518.3 + i * 17.43})`);
ent.append("line").attr("x1", 990).attr("x2", 1015).attr("y1", 0).attr("y2", 0)
  .attr("stroke", d => d.color).attr("stroke-width", 1.9);
ent.append("text").attr("x", 1024).attr("y", 0).attr("dominant-baseline", "central")
  .attr("font-size", 12).attr("fill", "#000").text(d => d.name);
</script></body></html>
